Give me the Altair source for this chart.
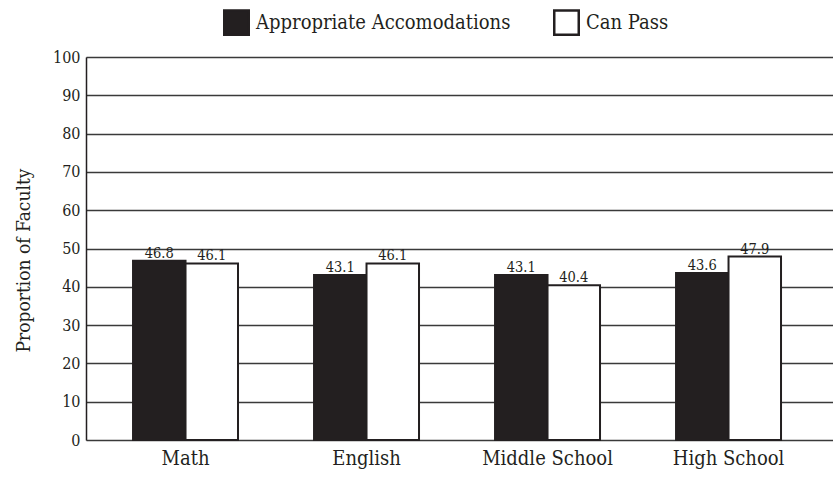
import altair as alt
import pandas as pd

# Survey results: share of faculty by subject / level
categories = ["Math", "English", "Middle School", "High School"]
series_names = ["Appropriate Accomodations", "Can Pass"]
appropriate = [46.8, 43.1, 43.1, 43.6]
can_pass = [46.1, 46.1, 40.4, 47.9]
y_ticks = [0, 10, 20, 30, 40, 50, 60, 70, 80, 90, 100]

rows = []
for cat, a, c in zip(categories, appropriate, can_pass):
    rows.append({"category": cat, "series": series_names[0], "value": a})
    rows.append({"category": cat, "series": series_names[1], "value": c})
df = pd.DataFrame(rows)

FONT = "DejaVu Serif Condensed"
INK = "#231f20"

x_enc = alt.X(
    "category:N",
    sort=categories,
    scale=alt.Scale(paddingInner=0.42, paddingOuter=0.2735, align=0.475),
    axis=alt.Axis(
        title=None, labelAngle=0, labelFont=FONT, labelFontSize=20,
        labelColor=INK, labelPadding=8, ticks=False, domain=False,
        grid=False,
    ),
)
xoff = alt.XOffset("series:N", sort=series_names,
                   scale=alt.Scale(paddingInner=0, paddingOuter=0))
y_enc = alt.Y(
    "value:Q",
    scale=alt.Scale(domain=[0, 100], nice=False),
    axis=alt.Axis(
        title="Proportion of Faculty", titleFont=FONT, titleFontSize=19,
        titleFontWeight="normal", titleColor=INK, titlePadding=19,
        titleY=203,
        values=y_ticks, labelFont=FONT, labelFontSize=16, labelOverlap=False,
        labelColor=INK, labelPadding=6, ticks=False,
        grid=True, gridColor="#3a3a3a", gridWidth=1.5,
        domain=True, domainColor=INK, domainWidth=1.5,
    ),
)

bars = alt.Chart(df).mark_bar(stroke=INK, strokeWidth=2).encode(
    x=x_enc,
    xOffset=xoff,
    y=y_enc,
    fill=alt.Fill(
        "series:N",
        sort=series_names,
        scale=alt.Scale(domain=series_names, range=[INK, "#ffffff"]),
        legend=alt.Legend(
            title=None, orient="none", direction="horizontal",
            legendX=137, legendY=-48, symbolType="square", symbolSize=600,
            symbolStrokeColor=INK, symbolStrokeWidth=2.5,
            symbolOpacity=1, labelFont=FONT, labelFontSize=20,
            labelColor=INK, labelOffset=6, columnPadding=38, labelLimit=0,
        ),
    ),
)

labels = alt.Chart(df).mark_text(
    font=FONT, fontSize=14.5, color=INK, baseline="alphabetic", dy=-3
).encode(
    x=x_enc,
    xOffset=xoff,
    y=y_enc,
    text=alt.Text("value:Q", format=".1f"),
)

chart = (
    alt.layer(bars, labels)
    .properties(
        width=747, height=383,
        autosize=alt.AutoSizeParams(type="none"),
        padding={"left": 86, "top": 57, "right": 0, "bottom": 40},
    )
    .configure_view(stroke=None)
    .configure(background="white")
)

chart.save("out.html", embed_options={"renderer": "svg", "actions": False})
